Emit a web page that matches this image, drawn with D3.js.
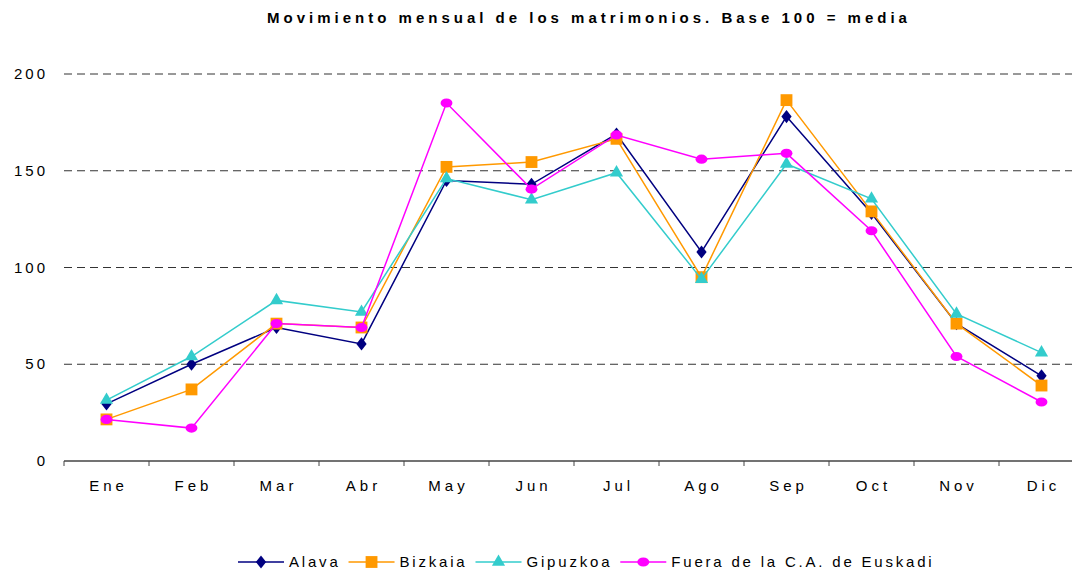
<!DOCTYPE html>
<meta charset="utf-8">
<style>
    body { margin: 0; background: #fff; }
    text { font-family: "Liberation Sans", Arial, sans-serif; fill: #000; }
</style>
<body>
<script src="https://cdn.jsdelivr.net/npm/d3@7"></script>
<script>

    var width = 1072,
        height = 572;

    var margin = {top: 74, right: -12, bottom: 111, left: 64};

    var months = ["Ene", "Feb", "Mar", "Abr", "May", "Jun", "Jul", "Ago", "Sep", "Oct", "Nov", "Dic"];
    var yTicks = [0, 50, 100, 150, 200];

    var alava    = [29.5, 50, 69, 60.5, 145, 143, 169, 108, 178, 128, 71, 44];
    var bizkaia  = [21.5, 37, 71, 69, 152, 154.5, 166.5, 95, 186.5, 129, 71, 39];
    var gipuzkoa = [31.5, 54, 83, 77, 146, 135, 149, 94, 153.5, 135.5, 76, 56];
    var fuera    = [21.5, 17, 71, 69, 185, 140.5, 168.5, 156, 159, 119, 54, 30.5];

    var seriesNames = ["Alava", "Bizkaia", "Gipuzkoa", "Fuera de la C.A. de Euskadi"];
    var seriesColors = ["#000080", "#ff9900", "#33cccc", "#ff00ff"];
    var seriesSymbols = [d3.symbolDiamond, d3.symbolSquare, d3.symbolTriangle, d3.symbolCircle];
    var seriesValues = [alava, bizkaia, gipuzkoa, fuera];

    var series = seriesNames.map(function(name, i) {
        return {name: name, color: seriesColors[i], symbol: seriesSymbols[i], values: seriesValues[i]};
    });

    var x = d3.scaleBand()
        .domain(months)
        .range([margin.left, width - margin.right]);

    var y = d3.scaleLinear()
        .domain([0, 200])
        .range([height - margin.bottom, margin.top]);

    var svg = d3.select("body").append("svg")
        .attr("width", width)
        .attr("height", height);

    svg.append("text")
        .attr("x", 589)
        .attr("y", 23)
        .attr("text-anchor", "middle")
        .style("font-size", "15px")
        .style("font-weight", "bold")
        .style("letter-spacing", "4px")
        .text("Movimiento mensual de los matrimonios. Base 100 = media");

    // dashed grid
    svg.selectAll("line.grid")
        .data(yTicks.filter(function(d) { return d > 0; }))
        .enter().append("line")
        .attr("class", "grid")
        .attr("x1", x.range()[0])
        .attr("x2", x.range()[1])
        .attr("y1", function(d) { return y(d); })
        .attr("y2", function(d) { return y(d); })
        .attr("stroke", "#333")
        .attr("stroke-width", 1)
        .attr("stroke-dasharray", "8,5");

    svg.selectAll("text.ytick")
        .data(yTicks)
        .enter().append("text")
        .attr("class", "ytick")
        .attr("x", 48)
        .attr("y", function(d) { return y(d) + 5; })
        .attr("text-anchor", "end")
        .style("font-size", "15px")
        .style("letter-spacing", "3px")
        .text(function(d) { return d; });

    // x axis
    var xAxis = svg.append("g")
        .attr("transform", "translate(0," + y(0) + ")");

    xAxis.append("line")
        .attr("x1", x.range()[0])
        .attr("x2", x.range()[1])
        .attr("stroke", "#444")
        .attr("stroke-width", 1.5);

    xAxis.selectAll("line.tick")
        .data(months.concat(["end"]))
        .enter().append("line")
        .attr("class", "tick")
        .attr("x1", function(d, i) { return x.range()[0] + i * x.step(); })
        .attr("x2", function(d, i) { return x.range()[0] + i * x.step(); })
        .attr("y1", 0)
        .attr("y2", 5)
        .attr("stroke", "#444");

    xAxis.selectAll("text")
        .data(months)
        .enter().append("text")
        .attr("x", function(d) { return x(d) + x.bandwidth() / 2 + 2; })
        .attr("y", 30)
        .attr("text-anchor", "middle")
        .style("font-size", "15px")
        .style("letter-spacing", "4px")
        .text(function(d) { return d; });

    var line = d3.line()
        .x(function(d, i) { return x(months[i]) + x.bandwidth() / 2; })
        .y(function(d) { return y(d); });

    function symbolSize(s) {
        if (s === d3.symbolDiamond) return 50;
        if (s === d3.symbolSquare) return 140;
        if (s === d3.symbolTriangle) return 75;
        return 66;
    }

    function markerTransform(s) {
        if (s === d3.symbolCircle) return " scale(1.3,1)";
        if (s === d3.symbolDiamond) return " scale(1.35,1)";
        return "";
    }

    var g = svg.selectAll("g.series")
        .data(series)
        .enter().append("g")
        .attr("class", "series");

    g.append("path")
        .attr("d", function(d) { return line(d.values); })
        .attr("fill", "none")
        .attr("stroke", function(d) { return d.color; })
        .attr("stroke-width", 1.5);

    g.each(function(s) {
        d3.select(this).selectAll("path.pt")
            .data(s.values)
            .enter().append("path")
            .attr("class", "pt")
            .attr("transform", function(d, i) {
                return "translate(" + (x(months[i]) + x.bandwidth() / 2) + "," + y(d) + ")" + markerTransform(s.symbol);
            })
            .attr("d", d3.symbol().type(s.symbol).size(symbolSize(s.symbol)))
            .attr("fill", s.color);
    });

    // legend, laid out left to right then centred
    var legend = svg.append("g");
    var leg = legend.selectAll("g.legend")
        .data(series)
        .enter().append("g")
        .attr("class", "legend");

    leg.append("line")
        .attr("x1", 0).attr("x2", 46)
        .attr("stroke", function(d) { return d.color; })
        .attr("stroke-width", 1.5);

    leg.append("path")
        .attr("transform", function(d) { return "translate(23,0)" + markerTransform(d.symbol); })
        .attr("d", function(d) { return d3.symbol().type(d.symbol).size(symbolSize(d.symbol))(); })
        .attr("fill", function(d) { return d.color; });

    leg.append("text")
        .attr("x", 51)
        .attr("y", 5)
        .style("font-size", "15px")
        .style("letter-spacing", "2.8px")
        .text(function(d) { return d.name; });

    var pos = 0;
    leg.each(function() {
        var w = 51 + d3.select(this).select("text").node().getComputedTextLength();
        d3.select(this).attr("transform", "translate(" + pos + ",0)");
        pos += w + 8;
    });
    var total = pos - 8;
    legend.attr("transform", "translate(" + Math.round(586 - total / 2) + ",562)");

</script>
